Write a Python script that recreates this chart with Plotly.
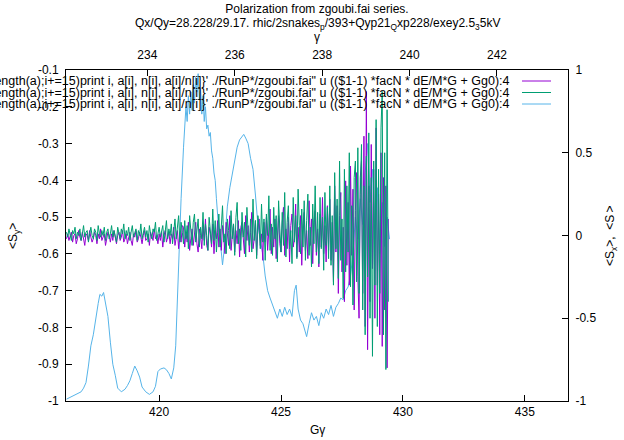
import plotly.graph_objects as go

G = 1.7928  # proton anomaly, Ggamma -> gamma on top axis

# ---- purple / green series (right axis) on a 0.05 grid in Ggamma ----
grid_start = 416.2
grid_step = 0.05

purple = [
    # 416.2 - 420.95
    -0.02, 0.01, -0.03, -0.01, 0.02, -0.04, 0.00, 0.01, -0.05, -0.02, 0.03, -0.01,
    -0.03, 0.02, -0.02, -0.06, 0.01, 0.00, -0.03, 0.03, -0.01, -0.04, -0.02, 0.02,
    0.00, -0.05, 0.01, -0.02, 0.04, -0.03, -0.01, 0.01, -0.06, -0.02, 0.02, 0.00,
    -0.04, 0.01, -0.03, 0.03, -0.02, -0.05, 0.00, 0.02, -0.03, -0.01, 0.03, -0.04,
    -0.02, 0.01, -0.05, 0.00, 0.02, -0.03, -0.06, 0.01, -0.01, 0.03, -0.04, -0.02,
    0.02, -0.01, -0.05, 0.00, 0.03, -0.03, -0.02, 0.01, -0.06, 0.02, -0.01, -0.03,
    0.04, -0.02, 0.00, -0.05, 0.01, -0.03, 0.02, -0.07, 0.00, 0.03, -0.04, -0.01,
    0.02, -0.05, 0.01, -0.02, 0.05, -0.06, 0.00, 0.03, -0.08, 0.02, -0.04, 0.06,
    # 421.0 - 426.95
    0.05, -0.07, 0.02, -0.04, 0.08, -0.09, -0.02, 0.04, -0.06, 0.03, 0.08, -0.05,
    -0.10, 0.04, 0.00, -0.08, 0.06, -0.03, 0.10, -0.06, -0.09, 0.05, 0.01, -0.07,
    0.07, -0.11, 0.03, -0.02, 0.09, -0.07, 0.04, -0.09, 0.06, -0.01, -0.11, 0.08,
    0.02, -0.06, 0.12, -0.09, 0.00, 0.07, -0.10, 0.03, -0.05, 0.09, -0.13, 0.05,
    0.08, -0.04, -0.11, 0.12, -0.03, 0.06, -0.10, 0.02, 0.14, -0.08, -0.02, 0.09,
    -0.12, 0.04, 0.10, -0.06, 0.01, -0.15, 0.08, -0.04, 0.11, -0.09, 0.03, 0.16,
    -0.11, 0.05, -0.07, 0.10, -0.14, 0.02, 0.12, -0.05, -0.10, 0.08, 0.17, -0.12,
    0.04, -0.08, 0.11, -0.16, 0.06, 0.13, -0.07, -0.02, 0.19, -0.13, 0.05, -0.10,
    0.12, -0.18, 0.07, 0.14, -0.09, 0.03, -0.14, 0.21, -0.06, 0.10, -0.17, 0.08,
    0.15, -0.12, 0.04, -0.19, 0.13, -0.07, 0.23, -0.11, 0.06, -0.16, 0.18, -0.09,
    # 427.0 - 428.25
    0.22, -0.15, 0.08, -0.28, 0.30, -0.10, 0.18, -0.35, 0.12, 0.26, -0.22, 0.05,
    -0.40, 0.33, -0.18, 0.20, -0.30, 0.42, -0.12, 0.28, -0.45, 0.15, 0.38, -0.25,
    -0.50, 0.35,
    # 428.3 - 429.4
    0.45, -0.35, 0.60, -0.55, 0.87, -0.69, 0.30, -0.40, 0.55, -0.20, 0.40, -0.50,
    0.65, -0.30, 0.25, -0.60, 0.50, -0.67, 0.35, -0.45, 0.30, -0.80, 0.10,
]

green = [
    # 416.2 - 420.95
    0.02, -0.01, 0.04, 0.00, -0.03, 0.03, 0.01, 0.05, -0.02, 0.02, 0.00, 0.04,
    -0.03, 0.01, 0.06, -0.01, 0.02, 0.03, -0.04, 0.01, 0.05, 0.00, -0.02, 0.04,
    0.02, -0.03, 0.06, 0.01, -0.01, 0.03, 0.00, 0.05, -0.03, 0.02, 0.04, -0.02,
    0.01, 0.06, -0.01, 0.03, 0.00, -0.04, 0.05, 0.02, -0.02, 0.04, 0.01, 0.07,
    -0.02, 0.03, 0.00, 0.05, -0.03, 0.02, 0.06, -0.01, 0.01, 0.04, -0.03, 0.03,
    0.00, 0.07, -0.02, 0.02, 0.05, -0.01, 0.03, -0.04, 0.06, 0.01, -0.02, 0.04,
    0.02, 0.08, -0.03, 0.01, 0.05, -0.01, 0.03, 0.06, -0.04, 0.02, 0.09, -0.02,
    0.04, 0.00, 0.07, -0.05, 0.03, 0.10, -0.02, 0.05, 0.12, -0.04, 0.08, 0.02,
    # 421.0 - 426.95
    -0.05, 0.09, -0.02, 0.06, -0.08, 0.12, 0.01, -0.06, 0.08, 0.13, -0.04, 0.03,
    0.10, -0.07, 0.05, -0.02, 0.14, -0.06, 0.07, 0.00, -0.09, 0.11, 0.04, -0.05,
    0.16, -0.03, 0.09, -0.10, 0.02, 0.13, -0.07, 0.06, 0.18, -0.04, 0.01, -0.11,
    0.10, 0.03, -0.08, 0.15, -0.02, 0.07, -0.12, 0.11, 0.20, -0.05, 0.04, -0.09,
    0.14, -0.01, 0.08, -0.13, 0.17, 0.02, -0.06, 0.10, -0.10, 0.22, -0.03, 0.09,
    -0.14, 0.12, 0.05, -0.08, 0.19, -0.04, 0.10, -0.15, 0.13, 0.00, 0.24, -0.09,
    0.07, -0.12, 0.17, -0.02, 0.12, -0.16, 0.21, 0.04, -0.10, 0.14, -0.06, 0.26,
    -0.13, 0.08, 0.18, -0.08, 0.03, -0.17, 0.23, -0.04, 0.12, -0.14, 0.28, 0.06,
    -0.11, 0.16, -0.07, 0.21, -0.15, 0.09, 0.25, -0.12, 0.05, -0.19, 0.19, -0.05,
    0.30, -0.10, 0.14, -0.17, 0.23, -0.08, 0.11, -0.21, 0.26, -0.06, 0.17, -0.14,
    # 427.0 - 428.25
    0.30, -0.18, 0.12, -0.30, 0.38, -0.08, 0.22, -0.26, 0.45, -0.15, 0.10, -0.38,
    0.40, -0.22, 0.30, -0.10, 0.50, -0.31, 0.18, -0.42, 0.35, 0.45, -0.28, 0.53,
    -0.35, 0.25,
    # 428.3 - 429.4
    0.55, -0.45, 0.30, -0.60, 0.48, -0.25, 0.62, -0.50, 0.35, -0.73, 0.45, -0.30,
    0.70, -0.55, 0.40, -0.35, 0.65, 0.87, -0.60, 0.50, -0.81, 0.76, -0.40,
]

grid_x = [round(grid_start + grid_step * i, 3) for i in range(len(purple))]

# ---- blue series (left axis, <S_y>) ----
blue_x = [
    416.2, 416.5, 416.8, 416.9, 417.0, 417.1, 417.2, 417.3, 417.4, 417.5, 417.57,
    417.65, 417.72, 417.8, 417.9, 418.0, 418.1, 418.2, 418.3, 418.45, 418.6, 418.7,
    418.8, 418.9, 419.0, 419.1, 419.2, 419.3, 419.45, 419.6, 419.75, 419.85, 419.95,
    420.05, 420.2, 420.3, 420.4, 420.5, 420.6, 420.68, 420.75, 420.82, 420.9, 421.0,
    421.07, 421.1, 421.15, 421.2, 421.25, 421.3, 421.35, 421.4, 421.45, 421.5,
    421.55, 421.6, 421.65, 421.7, 421.75, 421.8, 421.85, 421.9, 421.95, 422.0,
    422.05, 422.1, 422.15, 422.2, 422.25, 422.3, 422.35, 422.4, 422.45, 422.5,
    422.55, 422.6, 422.65, 422.7, 422.75, 422.8, 422.9, 423.0, 423.1, 423.2, 423.3,
    423.4, 423.47, 423.55, 423.65, 423.75, 423.85, 423.95, 424.05, 424.15, 424.25,
    424.35, 424.45, 424.55, 424.65, 424.75, 424.85, 424.95, 425.05, 425.15, 425.25,
    425.35, 425.45, 425.55, 425.62, 425.7, 425.8, 425.9, 426.0, 426.05, 426.15,
    426.25, 426.35, 426.45, 426.55, 426.65, 426.75, 426.85, 426.95, 427.05, 427.15,
    427.25, 427.35, 427.45, 427.55, 427.65, 427.75, 427.85, 427.95, 428.05, 428.15,
    428.25, 428.35, 428.45, 428.55, 428.65, 428.75, 428.85, 428.95, 429.05, 429.15,
    429.25, 429.35, 429.45,
]
blue_y = [
    -0.995, -0.985, -0.975, -0.965, -0.95, -0.905, -0.85, -0.82, -0.77, -0.735, -0.71,
    -0.715, -0.705, -0.73, -0.77, -0.84, -0.9, -0.93, -0.965, -0.975, -0.968, -0.958,
    -0.945, -0.925, -0.905, -0.918, -0.935, -0.962, -0.975, -0.982, -0.975, -0.96, -0.92,
    -0.913, -0.91, -0.915, -0.925, -0.94, -0.91, -0.85, -0.72, -0.58, -0.45, -0.31,
    -0.23, -0.2, -0.24, -0.17, -0.22, -0.16, -0.21, -0.14, -0.19, -0.12,
    -0.16, -0.11, -0.18, -0.15, -0.22, -0.17, -0.24, -0.2, -0.26, -0.25,
    -0.28, -0.27, -0.32, -0.34, -0.38, -0.4, -0.45, -0.5, -0.54, -0.56,
    -0.6, -0.63, -0.6, -0.56, -0.5, -0.47, -0.42, -0.38, -0.34, -0.31, -0.29,
    -0.28, -0.275, -0.285, -0.3, -0.34, -0.37, -0.44, -0.52, -0.56, -0.6,
    -0.66, -0.7, -0.72, -0.74, -0.76, -0.775, -0.75, -0.77, -0.745, -0.765,
    -0.75, -0.77, -0.7, -0.685, -0.75, -0.78, -0.79, -0.81, -0.825, -0.79,
    -0.76, -0.78, -0.77, -0.795, -0.76, -0.775, -0.75, -0.765, -0.74, -0.77,
    -0.745, -0.735, -0.72, -0.725, -0.7, -0.69, -0.66, -0.6, -0.5, -0.56,
    -0.45, -0.52, -0.38, -0.3, -0.46, -0.37, -0.56, -0.42, -0.6, -0.46,
    -0.58, -0.5, -0.56,
]

# ---- axes ticks / text ----
x_range = [416.18, 436.77]
x_ticks = [420, 425, 430, 435]
x2_ticks = [234, 236, 238, 240, 242]
y_ticks = [-0.1, -0.2, -0.3, -0.4, -0.5, -0.6, -0.7, -0.8, -0.9, -1]
y_ticktext = ["-0.1", "-0.2", "-0.3", "-0.4", "-0.5", "-0.6", "-0.7", "-0.8", "-0.9", "-1"]
y2_ticks = [-1, -0.5, 0, 0.5, 1]
y2_ticktext = ["-1", "-0.5", "0", "0.5", "1"]

title_1 = "Polarization from zgoubi.fai series."
title_2 = ("Qx/Qy=28.228/29.17. rhic/2snakes<sub>p</sub>/393+Qyp21<sub>Q</sub>"
           "xp228/exey2.5<sub>3</sub>5kV")
legend_text = ("for(i=1;i&lt;=length(a);i+=15)print i, a[i], n[i], a[i]/n[i]}' "
               "./RunP*/zgoubi.fai\" u (($1-1) *facN * dE/M*G + Gg0):4")
colors = ["#9400D3", "#009E73", "#56B4E9"]

FONT = "Liberation Sans, Arial, sans-serif"
L, R, T, B = 66, 568, 70, 401
PW, PH = R - L, B - T


def px(xp):
    return (xp - L) / PW


def py(yp):
    return 1 - (yp - T) / PH


fig = go.Figure()
fig.add_trace(go.Scatter(x=grid_x, y=purple, mode="lines", xaxis="x", yaxis="y2",
                         line=dict(color=colors[0], width=1), name="purple"))
fig.add_trace(go.Scatter(x=grid_x, y=green, mode="lines", xaxis="x", yaxis="y2",
                         line=dict(color=colors[1], width=1), name="green"))
fig.add_trace(go.Scatter(x=blue_x, y=blue_y, mode="lines", xaxis="x", yaxis="y",
                         line=dict(color=colors[2], width=1), name="blue"))
# invisible carrier so the top (gamma) axis is drawn
fig.add_trace(go.Scatter(x=[None], y=[None], xaxis="x2", yaxis="y", mode="lines",
                         hoverinfo="skip", showlegend=False))

axis_common = dict(showgrid=False, zeroline=False, showline=True, linecolor="black",
                   linewidth=1, ticks="inside", ticklen=6, tickcolor="black",
                   tickfont=dict(family=FONT, size=12, color="black"))

fig.update_layout(
    width=624, height=440,
    margin=dict(l=L, r=624 - R, t=T, b=440 - B, pad=0),
    paper_bgcolor="white", plot_bgcolor="white",
    showlegend=False,
    font=dict(family=FONT, size=12, color="black"),
    title=dict(text=title_1, x=0.5, xref="paper", xanchor="center",
               y=1 - 5 / 440, yref="container", yanchor="top",
               font=dict(family=FONT, size=12)),
    xaxis=dict(range=x_range, tickvals=x_ticks, **axis_common),
    xaxis2=dict(range=[x_range[0] / G, x_range[1] / G], tickvals=x2_ticks,
                overlaying="x", side="top", anchor="y", ticklabelstandoff=5,
                **axis_common),
    yaxis=dict(range=[-1, -0.1], tickvals=y_ticks, ticktext=y_ticktext,
               ticklabelstandoff=4, **axis_common),
    yaxis2=dict(range=[-1, 1], tickvals=y2_ticks, ticktext=y2_ticktext,
                overlaying="y", side="right", anchor="x",
                ticklabelstandoff=4, **axis_common),
)

ann_font = dict(family=FONT, size=12, color="black")
fig.add_annotation(text=title_2, xref="paper", yref="paper", x=0.5, y=py(24),
                   xanchor="center", yanchor="middle", showarrow=False, font=ann_font)
fig.add_annotation(text="γ", xref="paper", yref="paper", x=0.5, y=py(37),
                   xanchor="center", yanchor="middle", showarrow=False, font=ann_font)
fig.add_annotation(text="Gγ", xref="paper", yref="paper", x=0.5, y=py(430),
                   xanchor="center", yanchor="middle", showarrow=False, font=ann_font)
fig.add_annotation(text="&lt;S<sub>y</sub>&gt;", xref="paper", yref="paper",
                   x=px(14), y=py(236), textangle=-90, xanchor="center",
                   yanchor="middle", showarrow=False, font=ann_font)
fig.add_annotation(text="&lt;S<sub>x</sub>&gt;,  &lt;S<sub> </sub>&gt;", xref="paper",
                   yref="paper", x=px(611), y=py(236), textangle=-90,
                   xanchor="center", yanchor="middle", showarrow=False, font=ann_font)

# legend drawn gnuplot-style: right-aligned text, sample line on its right
row_y = [81, 92.5, 104]
leg_font = dict(family=FONT, size=12.5, color="black")
for cy, col in zip(row_y, colors):
    fig.add_annotation(text=legend_text, xref="paper", yref="paper",
                       x=px(512), y=py(cy), xanchor="right", yanchor="middle",
                       showarrow=False, font=leg_font)
    fig.add_shape(type="line", xref="paper", yref="paper",
                  x0=px(522), x1=px(551), y0=py(cy), y1=py(cy),
                  line=dict(color=col, width=1))

fig.write_html("out.html")
